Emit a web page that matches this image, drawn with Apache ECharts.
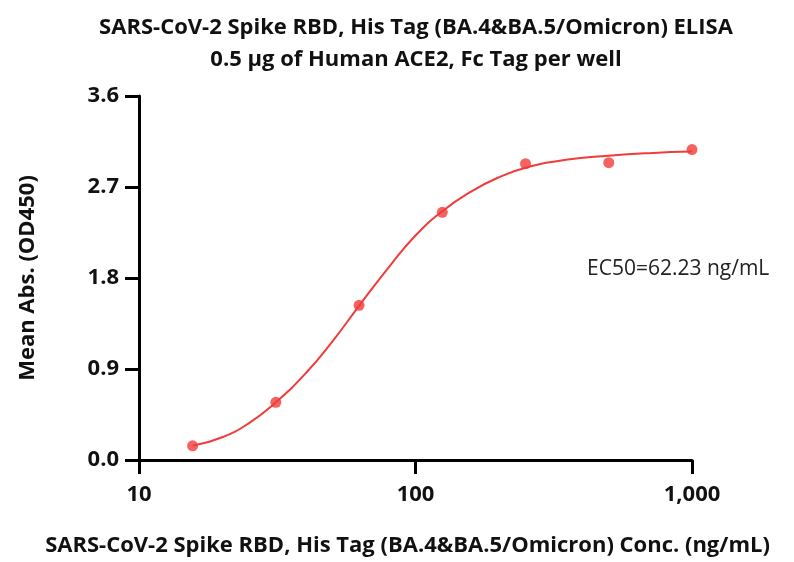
<!DOCTYPE html>
<html>
<head>
<meta charset="utf-8">
<script src="https://cdn.jsdelivr.net/npm/echarts@6/dist/echarts.min.js"></script>
<style>
html,body{margin:0;padding:0;background:#fff;}
#chart{width:794px;height:562px;}
</style>
</head>
<body>
<div id="chart"></div>
<script>
// Measured points
const concentrations = [15.625, 31.25, 62.5, 125, 250, 500, 1000];
const meanAbs = [0.14, 0.57, 1.53, 2.45, 2.93, 2.94, 3.07];

// Fitted curve
const curveConc = [15.625, 20, 25, 31.25, 40, 50, 62.5, 80, 100, 125, 160, 200, 250, 350, 500, 700, 1000];
const curveAbs  = [0.14, 0.225, 0.365, 0.57, 0.855, 1.17, 1.525, 1.905, 2.22, 2.46, 2.66, 2.795, 2.89, 2.97, 3.01, 3.035, 3.05];

const yTicks = [0.0, 0.9, 1.8, 2.7, 3.6];
const xTicks = [10, 100, 1000];
const xTickLabels = ['10', '100', '1,000'];

const titleLines = ['SARS-CoV-2 Spike RBD, His Tag (BA.4&BA.5/Omicron) ELISA', '0.5 \u00b5g of Human ACE2, Fc Tag per well'];
const xName = 'SARS-CoV-2 Spike RBD, His Tag (BA.4&BA.5/Omicron) Conc. (ng/mL)';
const yName = 'Mean Abs. (OD450)';
const ec50Text = 'EC50=62.23 ng/mL';

const FONT = '"Open Sans", sans-serif';
const RED = '#f23b3b';

const chart = echarts.init(document.getElementById('chart'), null, {renderer: 'canvas'});
chart.setOption({
  backgroundColor: '#fff',
  animation: false,
  graphic: [
    {type: 'text', x: 416, y: 28, style: {text: titleLines[0], font: 'bold 22px "Open Sans", sans-serif', fill: '#111', align: 'center', verticalAlign: 'middle'}},
    {type: 'text', x: 416, y: 60, style: {text: titleLines[1], font: 'bold 22px "Open Sans", sans-serif', fill: '#111', align: 'center', verticalAlign: 'middle'}},
    {type: 'text', left: 587, top: 259, style: {text: ec50Text, font: '21px "Open Sans", sans-serif', fill: '#222'}}
  ],
  grid: {left: 139, right: 102, top: 96, bottom: 98, containLabel: false},
  xAxis: {
    type: 'log',
    logBase: 10,
    min: xTicks[0],
    max: xTicks[xTicks.length - 1],
    name: xName,
    nameLocation: 'middle',
    nameGap: 75,
    nameTextStyle: {fontFamily: FONT, fontWeight: 'bold', fontSize: 22, color: '#111', padding: [0, 16, 0, 0]},
    axisLine: {show: true, lineStyle: {color: '#000', width: 3}},
    axisTick: {show: true, length: 14, inside: false, lineStyle: {color: '#000', width: 3}},
    minorTick: {show: false},
    splitLine: {show: false},
    axisLabel: {
      fontFamily: FONT, fontWeight: 'bold', fontSize: 22, color: '#111', margin: 24,
      formatter: function (v) { const i = xTicks.indexOf(Math.round(v)); return i >= 0 ? xTickLabels[i] : ''; }
    }
  },
  yAxis: {
    type: 'value',
    min: yTicks[0],
    max: yTicks[yTicks.length - 1],
    interval: 0.9,
    name: yName,
    nameLocation: 'middle',
    nameGap: 100,
    nameTextStyle: {fontFamily: FONT, fontWeight: 'bold', fontSize: 22, color: '#111'},
    axisLine: {show: true, lineStyle: {color: '#000', width: 3}},
    axisTick: {show: true, length: 14, inside: false, lineStyle: {color: '#000', width: 3}},
    splitLine: {show: false},
    axisLabel: {
      fontFamily: FONT, fontWeight: 'bold', fontSize: 22, color: '#111', margin: 20,
      formatter: function (v) { return v.toFixed(1); }
    }
  },
  series: [
    {
      name: 'fit',
      type: 'line',
      data: curveConc.map((c, i) => [c, curveAbs[i]]),
      smooth: 0.5,
      showSymbol: false,
      symbol: 'none',
      lineStyle: {color: RED, width: 2},
      z: 2
    },
    {
      name: 'data',
      type: 'scatter',
      data: concentrations.map((c, i) => [c, meanAbs[i]]),
      symbol: 'circle',
      symbolSize: 11,
      itemStyle: {color: RED},
      z: 3
    }
  ]
});
</script>
</body>
</html>
